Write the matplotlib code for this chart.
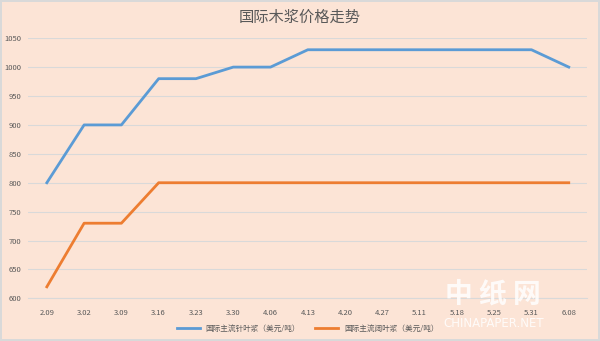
import matplotlib.pyplot as plt

plt.rcParams['font.family'] = ['Noto Sans CJK SC', 'DejaVu Sans']

dates = ['2.09', '3.02', '3.09', '3.16', '3.23', '3.30', '4.06', '4.13',
         '4.20', '4.27', '5.11', '5.18', '5.25', '5.31', '6.08']
softwood = [800, 900, 900, 980, 980, 1000, 1000, 1030, 1030, 1030, 1030, 1030, 1030, 1030, 1000]
hardwood = [620, 730, 730, 800, 800, 800, 800, 800, 800, 800, 800, 800, 800, 800, 800]
yticks = [600, 650, 700, 750, 800, 850, 900, 950, 1000, 1050]

bg = '#FCE4D6'
fig = plt.figure(figsize=(6, 3.41), dpi=100, facecolor=bg, edgecolor='#D9D9D9', linewidth=1.5)
ax = fig.add_axes([0.047, 0.125, 0.932, 0.763])
ax.set_facecolor(bg)

x = range(len(dates))
ax.plot(x, softwood, color='#5B9BD5', linewidth=2, label='国际主流针叶浆（美元/吨）')
ax.plot(x, hardwood, color='#ED7D31', linewidth=2, label='国际主流阔叶浆（美元/吨）')

ax.set_xlim(-0.5, len(dates) - 0.5)
ax.set_ylim(600, 1050)
ax.set_yticks(yticks)
ax.set_xticks(list(x))
ax.set_xticklabels(dates)
ax.tick_params(axis='both', length=0, labelsize=5.5, colors='#595959')
ax.tick_params(axis='x', pad=8)
ax.tick_params(axis='y', pad=5)
ax.grid(axis='y', color='#D9D9D9', linewidth=0.8)
ax.set_axisbelow(True)
for s in ['top', 'right', 'left']:
    ax.spines[s].set_visible(False)
ax.spines['bottom'].set_color('#D9D9D9')

fig.text(0.5, 0.95, '国际木浆价格走势', ha='center', va='center', fontsize=11, color='#595959')

ax.legend(loc='upper center', bbox_to_anchor=(0.5, -0.075), ncol=2, frameon=False,
          fontsize=5.5, labelcolor='#595959', handlelength=3, columnspacing=2)

# watermark
fig.text(0.822, 0.135, '中 纸 网', ha='center', va='center', fontsize=20, color='white',
         alpha=0.85, fontweight='bold')
fig.text(0.822, 0.05, 'CHINAPAPER.NET', ha='center', va='center', fontsize=8.5,
         color='white', alpha=0.85, family='DejaVu Sans')

fig.savefig('out.png', dpi=100, facecolor=bg, edgecolor='#D9D9D9')
